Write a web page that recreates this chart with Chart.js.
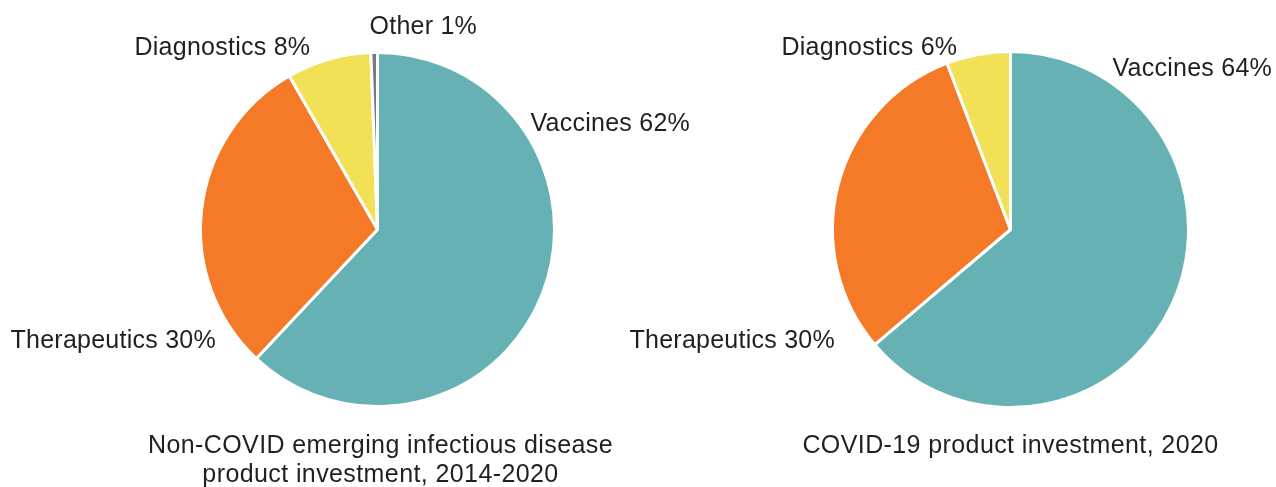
<!DOCTYPE html>
<html>
<head>
<meta charset="utf-8">
<script src="https://cdn.jsdelivr.net/npm/chart.js@4"></script>
<style>
    html, body { margin: 0; padding: 0; background: #fff; }
    #wrap { position: relative; width: 1276px; height: 487px; overflow: hidden; }
    .box { position: absolute; left: 0; top: 0; width: 1276px; height: 487px; }
</style>
</head>
<body>
<div id="wrap">
    <div class="box"><canvas id="pieLeft"></canvas></div>
    <div class="box"><canvas id="pieRight"></canvas></div>
</div>
<script>
// Data
const leftCategories = ['Vaccines', 'Therapeutics', 'Diagnostics', 'Other'];
const leftValues = [62.0, 29.7, 7.7, 0.6];
const leftPercentText = ['62%', '30%', '8%', '1%'];
const leftTitle = ['Non-COVID emerging infectious disease', 'product investment, 2014-2020'];

const rightCategories = ['Vaccines', 'Therapeutics', 'Diagnostics'];
const rightValues = [63.8, 30.4, 5.8];
const rightPercentText = ['64%', '30%', '6%'];
const rightTitle = ['COVID-19 product investment, 2020'];

const sliceColors = ['#66b1b4', '#f47a28', '#f2e056', '#7a7a7a'];
const TEXT_COLOR = '#231f20';
const FONT = '25px "Liberation Sans", Arial, sans-serif';

// Draws the category labels and the title under each pie
const pieTextPlugin = {
    id: 'pieText',
    afterDraw(chart, args, opts) {
        const arc = chart.getDatasetMeta(0).data[0];
        if (!arc) return;
        const cx = arc.x, cy = arc.y;
        const ctx = chart.ctx;
        const cats = chart.data.labels;
        ctx.save();
        ctx.font = FONT;
        ctx.fillStyle = TEXT_COLOR;
        ctx.textBaseline = 'alphabetic';
        ctx.letterSpacing = '0.25px';
        ctx.textAlign = 'left';
        opts.spots.forEach((s, i) => {
            ctx.fillText(cats[i] + ' ' + opts.pct[i], cx + s.dx, cy + s.dy);
        });
        ctx.letterSpacing = '0.4px';
        ctx.textAlign = 'center';
        opts.title.forEach((line, i) => {
            ctx.fillText(line, cx + opts.titleDx, cy + 223 + i * 29);
        });
        ctx.restore();
    }
};

function makePie(id, labels, values, pct, title, padding, spots, titleDx) {
    return new Chart(document.getElementById(id), {
        type: 'pie',
        data: {
            labels: labels,
            datasets: [{
                data: values,
                backgroundColor: sliceColors.slice(0, values.length),
                borderColor: '#ffffff',
                borderWidth: 3
            }]
        },
        options: {
            responsive: true,
            maintainAspectRatio: false,
            animation: false,
            events: [],
            layout: { padding: padding },
            plugins: {
                legend: { display: false },
                tooltip: { enabled: false },
                pieText: { pct: pct, title: title, spots: spots, titleDx: titleDx }
            }
        },
        plugins: [pieTextPlugin]
    });
}

makePie('pieLeft', leftCategories, leftValues, leftPercentText, leftTitle,
    { left: 199, right: 720, top: 51, bottom: 79 },
    [
        { dx: 153, dy: -99 },
        { dx: -367, dy: 118 },
        { dx: -243, dy: -175 },
        { dx: -8, dy: -196 }
    ], 3);

makePie('pieRight', rightCategories, rightValues, rightPercentText, rightTitle,
    { left: 831, right: 86, top: 50, bottom: 78 },
    [
        { dx: 102, dy: -154 },
        { dx: -381, dy: 118 },
        { dx: -229, dy: -175 }
    ], 0);
</script>
</body>
</html>
